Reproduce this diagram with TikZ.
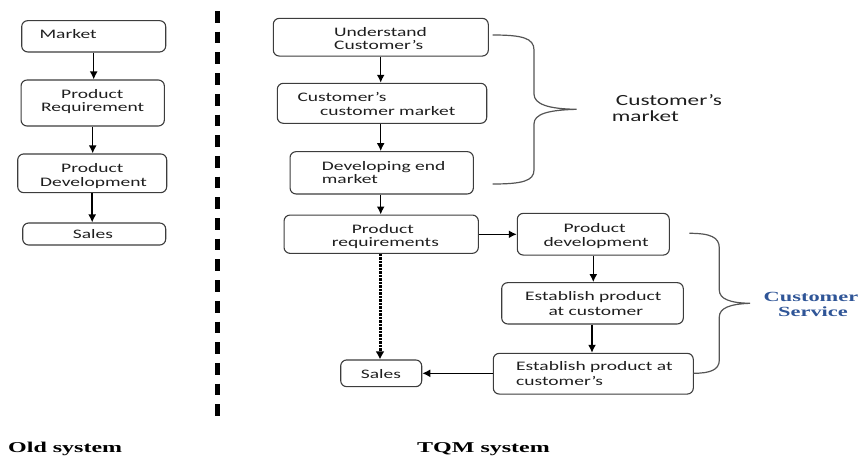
\documentclass[tikz,border=0pt]{standalone}
\usepackage{fontspec}
\setmainfont{Carlito}
\newfontfamily\boxfont[FakeStretch=1.5]{Carlito}
\newfontfamily\capfont[FakeStretch=1.6]{Liberation Serif}
\usetikzlibrary{arrows.meta}
\definecolor{boxline}{HTML}{3C3C3C}
\definecolor{txtcol}{HTML}{1E1E1E}
\definecolor{bracecol}{HTML}{555555}
\definecolor{csblue}{HTML}{2F5597}
\begin{document}
\begin{tikzpicture}[x=1pt,y=-1pt,
  box/.style={draw=boxline, line width=1.1pt, rounded corners=6pt, inner sep=0pt},
  txt/.style={anchor=base west, inner sep=0pt, text=txtcol, font=\boxfont\fontsize{13pt}{15pt}\selectfont},
  bigtxt/.style={anchor=base west, inner sep=0pt, text=txtcol, font=\boxfont\fontsize{15.5pt}{18pt}\selectfont},
  captxt/.style={anchor=base west, inner sep=0pt, text=black, font=\capfont\bfseries\fontsize{15pt}{18pt}\selectfont},
  cstxt/.style={anchor=base, inner sep=0pt, text=csblue, font=\capfont\bfseries\fontsize{14pt}{17pt}\selectfont},
  arr/.style={-{Latex[length=8pt,width=8pt]}, line width=1.5pt, black},
  dotarr/.style={-{Latex[length=8pt,width=9pt]}, line width=3pt, black, dash pattern=on 2.2pt off 1.3pt},
  brace/.style={draw=bracecol, line width=1.2pt},
  sep/.style={line width=5pt, black, dash pattern=on 11.7pt off 9pt}]
\useasboundingbox (0,0) rectangle (863,458);

% separator
\coordinate (septop) at (217,11);
\coordinate (sepbot) at (217,417);
\draw[sep] (septop) -- (sepbot);

% ---------- Old system ----------
\node[box, minimum width=144pt, minimum height=31.3pt] (om) at (93.7,36.3) {};
\node[box, minimum width=143.3pt, minimum height=46pt] (opr) at (92.7,103) {};
\node[box, minimum width=149pt, minimum height=38.7pt] (opd) at (92.2,173.3) {};
\node[box, minimum width=143pt, minimum height=22pt] (os) at (94.2,234) {};

\node[txt] (omt) at (39.3,38) {Market};
\node[txt] (oprt1) at (61,98.3) {Product};
\node[txt] (oprt2) at (41,111.7) {Requirement};
\node[txt] (opdt1) at (61,172.7) {Product};
\node[txt] (opdt2) at (40,186) {Development};
\node[txt] (ost) at (72.7,238.5) {Sales};

\draw[arr] (om.south) -- (om.south |- opr.north);
\draw[arr] (opr.south) -- (opr.south |- opd.north);
\draw[arr] (opd.south) -- (opd.south |- os.north);

% ---------- TQM system ----------
\node[box, minimum width=215pt, minimum height=37.7pt] (tu) at (380.8,37.2) {};
\node[box, minimum width=209.4pt, minimum height=40pt] (tc) at (382,103.3) {};
\node[box, minimum width=183.3pt, minimum height=42.3pt] (td) at (381.7,172.8) {};
\node[box, minimum width=194.3pt, minimum height=38.3pt] (tpr) at (381.2,234.2) {};
\node[box, minimum width=152pt, minimum height=41.7pt] (tpd) at (593.3,234.2) {};
\node[box, minimum width=181.6pt, minimum height=41.3pt] (te1) at (592.5,303.3) {};
\node[box, minimum width=200pt, minimum height=40.7pt] (te2) at (593.3,373.7) {};
\node[box, minimum width=81pt, minimum height=26.7pt] (ts) at (381.2,373.3) {};

\node[txt] (tut1) at (334,36) {Understand};
\node[txt] (tut2) at (334,49.3) {Customer’s};
\node[txt] (tct1) at (297.3,101) {Customer’s};
\node[txt] (tct2) at (320,115) {customer market};
\node[txt] (tdt1) at (321.7,170) {Developing end};
\node[txt] (tdt2) at (321.7,183.5) {market};
\node[txt] (tprt1) at (351.7,233.3) {Product};
\node[txt] (tprt2) at (331.7,246.7) {requirements};
\node[txt] (tpdt1) at (563.3,232.7) {Product};
\node[txt] (tpdt2) at (543.3,246.7) {development};
\node[txt] (te1t1) at (525,300.7) {Establish product};
\node[txt] (te1t2) at (548.3,315) {at customer};
\node[txt] (te2t1) at (516,370.7) {Establish product at};
\node[txt] (te2t2) at (516,385) {customer’s};
\node[txt] (tst) at (360.7,378.3) {Sales};

\draw[arr] (tu.south -| 380.7,0) -- (tc.north -| 380.7,0);
\draw[arr] (tc.south -| 380.7,0) -- (td.north -| 380.7,0);
\draw[arr] (td.south -| 380.7,0) -- (tpr.north -| 380.7,0);
\draw[arr] (tpr.east |- 0,234.3) -- (tpd.west |- 0,234.3);
\draw[arr] (tpd.south) -- (tpd.south |- te1.north);
\draw[arr] (te1.south -| 592,0) -- (te2.north -| 592,0);
\draw[dotarr] (tpr.south -| 380,0) -- (ts.north -| 380,0);
\draw[arr] (te2.west |- 0,373.3) -- (ts.east |- 0,373.3);

% braces
\draw[brace] (492.7,35) .. controls (522,35) and (534,38) .. (534,50)
  -- (534,94) .. controls (534,104) and (548,109) .. (576.7,109.3)
  .. controls (548,110) and (534,114) .. (534,124)
  -- (534,170) .. controls (534,181) and (522,184) .. (492.7,184);
\node[bigtxt] (cm1) at (615.7,105) {Customer’s};
\node[bigtxt] (cm2) at (611.7,121.5) {market};

\draw[brace] (689.3,233.3) .. controls (710,233.3) and (719.3,237) .. (719.3,248)
  -- (719.3,290) .. controls (719.3,299) and (730,303) .. (750,303.3)
  .. controls (730,304) and (719.3,308) .. (719.3,317)
  -- (719.3,360) .. controls (719.3,370) and (710,373.3) .. (693.3,373.3);
\node[cstxt] (cs1) at (811,301.5) {Customer};
\node[cstxt] (cs2) at (813,316.5) {Service};

% captions
\node[captxt] (oldcap) at (8,452.5) {Old system};
\node[captxt] (tqmcap) at (417,452.5) {TQM system};
\end{tikzpicture}
\end{document}
